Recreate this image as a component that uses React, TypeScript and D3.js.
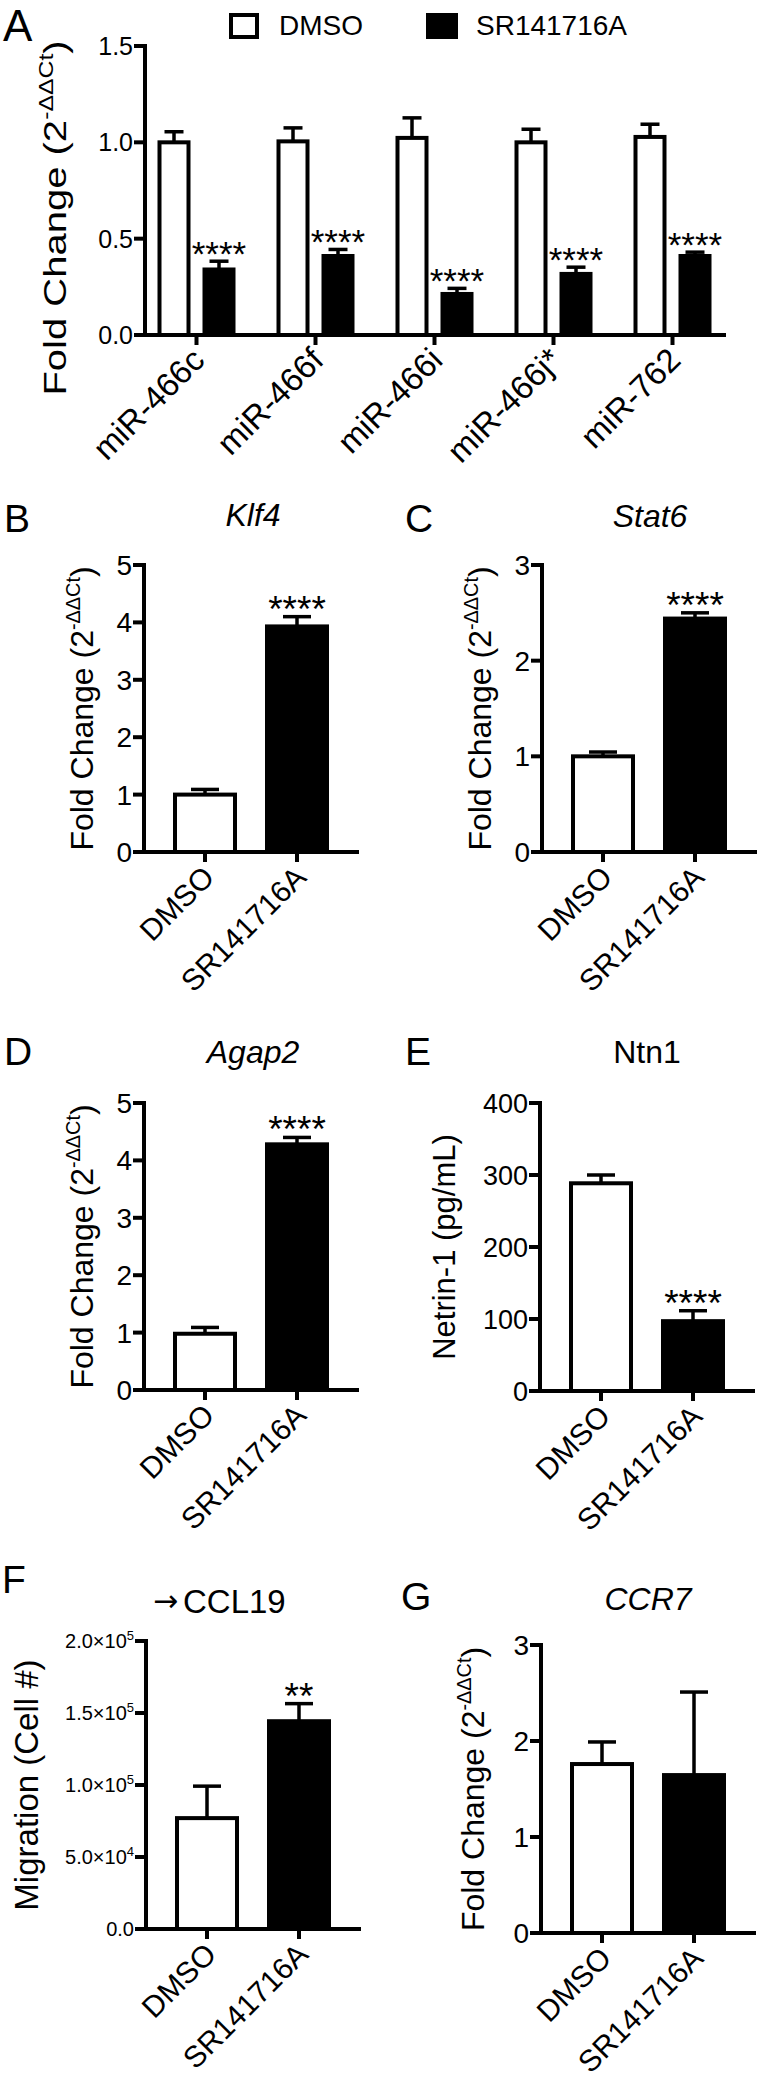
import React from "react";
import * as d3 from "d3";

const FONT = "'Liberation Sans', Arial, Helvetica, sans-serif";

// ---------- Panel A data ----------
const miRNAs = ["miR-466c", "miR-466f", "miR-466i", "miR-466j*", "miR-762"];
const miDMSO = [1.0, 1.005, 1.023, 1.0, 1.028];
const miDMSOSem = [0.055, 0.07, 0.104, 0.068, 0.066];
const miSR = [0.34, 0.41, 0.213, 0.317, 0.41];
const miSRSem = [0.043, 0.034, 0.029, 0.035, 0.02];
const miStars = ["****", "****", "****", "****", "****"];
const aTicks = [0, 0.5, 1.0, 1.5];
const legendLabels = ["DMSO", "SR141716A"];

// ---------- Two-group panels ----------
const groups = ["DMSO", "SR141716A"];

const klf4Mean = [1.0, 3.93];
const klf4Sem = [0.09, 0.17];
const klf4Stars = ["", "****"];
const klf4Ticks = [0, 1, 2, 3, 4, 5];

const stat6Mean = [1.0, 2.44];
const stat6Sem = [0.045, 0.06];
const stat6Stars = ["", "****"];
const stat6Ticks = [0, 1, 2, 3];

const agap2Mean = [0.98, 4.28];
const agap2Sem = [0.11, 0.12];
const agap2Stars = ["", "****"];
const agap2Ticks = [0, 1, 2, 3, 4, 5];

const ntn1Mean = [288.5, 97];
const ntn1Sem = [11.5, 14.5];
const ntn1Stars = ["", "****"];
const ntn1Ticks = [0, 100, 200, 300, 400];

const ccl19Mean = [77000, 144300];
const ccl19Sem = [22200, 12200];
const ccl19Stars = ["", "**"];
const ccl19Ticks = [0, 50000, 100000, 150000, 200000];

const ccr7Mean = [1.76, 1.645];
const ccr7Sem = [0.23, 0.865];
const ccr7Stars = ["", ""];
const ccr7Ticks = [0, 1, 2, 3];

const AX = 4; // axis stroke
const BS = 4; // bar stroke
const ES = 3.5; // error stroke

function FoldLabel({ x, y, size, sx = 1 }: { x: number; y: number; size: number; sx?: number }) {
  const sup = size * 0.62;
  const shift = size * 0.42;
  return (
    <g transform={`translate(${x},${y}) scale(${sx},1) rotate(-90)`}>
      <text textAnchor="middle" fontSize={size} fontFamily={FONT}>
        Fold Change (2
        <tspan fontSize={sup} dy={-shift}>-ΔΔCt</tspan>
        <tspan dy={shift}>)</tspan>
      </text>
    </g>
  );
}

function sciLabel(v: number) {
  if (v === 0) return { main: "0.0", exp: "" };
  const e = Math.floor(Math.log10(v));
  const m = v / Math.pow(10, e);
  return { main: `${m.toFixed(1)}×10`, exp: String(e) };
}

type PanelProps = {
  ax: number;
  top: number;
  zero: number;
  ticks: number[];
  mean: number[];
  sem: number[];
  stars: string[];
  title: React.ReactNode;
  titleX: number;
  titleY: number;
  letter: string;
  letterX: number;
  letterY: number;
  ylabel: "fold" | string;
  ylabelX: number;
  ylabelSize: number;
  tickSize?: number;
  sci?: boolean;
  titleAnchor?: "middle" | "start";
};

function TwoBarPanel(p: PanelProps) {
  const y = d3.scaleLinear().domain([0, p.ticks[p.ticks.length - 1]]).range([p.zero, p.top]);
  const x = d3.scalePoint<string>().domain(groups).range([p.ax + 61, p.ax + 153]);
  const axisEnd = p.ax + 215;
  const barW = 60;
  const capW = 28;
  const tickSize = p.tickSize ?? 28;
  const ylabelY = (p.top + p.zero) / 2;
  return (
    <g>
      <text x={p.letterX} y={p.letterY} fontSize={39} fontFamily={FONT}>{p.letter}</text>
      <text x={p.titleX} y={p.titleY} fontSize={32} fontFamily={FONT} textAnchor={p.titleAnchor ?? "middle"}>{p.title}</text>
      {p.ylabel === "fold" ? (
        <FoldLabel x={p.ylabelX} y={ylabelY} size={p.ylabelSize} />
      ) : (
        <text transform={`translate(${p.ylabelX},${ylabelY}) rotate(-90)`} textAnchor="middle" fontSize={p.ylabelSize} fontFamily={FONT}>
          {p.ylabel}
        </text>
      )}
      {groups.map((g, i) => {
        const cx = x(g)!;
        const yt = y(p.mean[i]);
        const ye = y(p.mean[i] + p.sem[i]);
        return (
          <g key={g}>
            <line x1={cx} x2={cx} y1={yt} y2={ye} stroke="#000" strokeWidth={ES} />
            <line x1={cx - capW / 2} x2={cx + capW / 2} y1={ye} y2={ye} stroke="#000" strokeWidth={ES} />
            <rect x={cx - barW / 2} y={yt} width={barW} height={p.zero - yt} fill={i === 0 ? "#fff" : "#000"} stroke="#000" strokeWidth={BS} />
            {p.stars[i] && (
              <text x={cx} y={ye + 5} fontSize={37} fontFamily={FONT} textAnchor="middle">{p.stars[i]}</text>
            )}
          </g>
        );
      })}
      <line x1={p.ax} x2={p.ax} y1={p.top - AX / 2} y2={p.zero} stroke="#000" strokeWidth={AX} />
      {p.ticks.map((t) => {
        const ty = y(t);
        const lab = p.sci ? sciLabel(t) : { main: String(t), exp: "" };
        return (
          <g key={t}>
            <line x1={p.ax - 11} x2={p.ax} y1={ty} y2={ty} stroke="#000" strokeWidth={AX} />
            <text x={p.ax - 12} y={ty + tickSize * 0.36} fontSize={tickSize} fontFamily={FONT} textAnchor="end">
              {lab.main}
              {lab.exp && <tspan fontSize={tickSize * 0.65} dy={-tickSize * 0.4}>{lab.exp}</tspan>}
            </text>
          </g>
        );
      })}
      <line x1={p.ax - AX / 2} x2={axisEnd} y1={p.zero} y2={p.zero} stroke="#000" strokeWidth={AX} />
      {groups.map((g) => (
        <g key={g}>
          <line x1={x(g)!} x2={x(g)!} y1={p.zero} y2={p.zero + 10} stroke="#000" strokeWidth={AX} />
          <text transform={`translate(${x(g)! + 11},${p.zero + 27}) rotate(-45)`} fontSize={30} fontFamily={FONT} textAnchor="end">
            {g}
          </text>
        </g>
      ))}
    </g>
  );
}

function PanelA() {
  const ax = 145;
  const top = 46;
  const zero = 335;
  const y = d3.scaleLinear().domain([0, 1.5]).range([zero, top]);
  const x = d3.scaleBand<string>().domain(miRNAs).range([137, 732]);
  const barW = 29;
  const off = 22.5;
  const capW = 19;
  const series = [
    { mean: miDMSO, sem: miDMSOSem, fill: "#fff", dx: -off },
    { mean: miSR, sem: miSRSem, fill: "#000", dx: off },
  ];
  return (
    <g>
      <text x={3} y={41} fontSize={44} fontFamily={FONT}>A</text>
      <rect x={231} y={15} width={26} height={22} fill="#fff" stroke="#000" strokeWidth={BS} />
      <text x={279} y={35} fontSize={28} fontFamily={FONT}>{legendLabels[0]}</text>
      <rect x={428} y={15} width={28} height={22} fill="#000" stroke="#000" strokeWidth={BS} />
      <text x={476} y={35} fontSize={28} fontFamily={FONT}>{legendLabels[1]}</text>
      <FoldLabel x={66} y={218} size={40} sx={0.8} />
      {miRNAs.map((m, i) => {
        const c = x(m)! + x.bandwidth() / 2;
        return (
          <g key={m}>
            {series.map((s, k) => {
              const cx = c + s.dx;
              const yt = y(s.mean[i]);
              const ye = y(s.mean[i] + s.sem[i]);
              return (
                <g key={k}>
                  <line x1={cx} x2={cx} y1={yt} y2={ye} stroke="#000" strokeWidth={ES} />
                  <line x1={cx - capW / 2} x2={cx + capW / 2} y1={ye} y2={ye} stroke="#000" strokeWidth={ES} />
                  <rect x={cx - barW / 2} y={yt} width={barW} height={zero - yt} fill={s.fill} stroke="#000" strokeWidth={BS} />
                  {k === 1 && (
                    <text x={cx} y={ye + 5} fontSize={35} fontFamily={FONT} textAnchor="middle">{miStars[i]}</text>
                  )}
                </g>
              );
            })}
            <line x1={c} x2={c} y1={zero} y2={zero + 10} stroke="#000" strokeWidth={AX} />
            <text transform={`translate(${c + 10},${zero + 27}) rotate(-45)`} fontSize={33} fontFamily={FONT} textAnchor="end">
              {m}
            </text>
          </g>
        );
      })}
      <line x1={ax} x2={ax} y1={top - AX / 2} y2={zero} stroke="#000" strokeWidth={AX} />
      {aTicks.map((t) => (
        <g key={t}>
          <line x1={ax - 11} x2={ax} y1={y(t)} y2={y(t)} stroke="#000" strokeWidth={AX} />
          <text x={ax - 12} y={y(t) + 9} fontSize={25} fontFamily={FONT} textAnchor="end">{d3.format(".1f")(t)}</text>
        </g>
      ))}
      <line x1={ax - AX / 2} x2={726} y1={zero} y2={zero} stroke="#000" strokeWidth={AX} />
    </g>
  );
}

export default function App() {
  const it = (s: string) => <tspan fontStyle="italic">{s}</tspan>;
  return (
    <svg width={760} height={2082} style={{ position: "absolute", left: 0, top: 0, display: "block", background: "#fff" }}>
      <rect width={760} height={2082} fill="#fff" />
      <PanelA />
      <TwoBarPanel ax={144} top={565} zero={852} ticks={klf4Ticks} mean={klf4Mean} sem={klf4Sem} stars={klf4Stars}
        title={it("Klf4")} titleX={253} titleY={526} letter="B" letterX={4} letterY={532} ylabel="fold" ylabelX={93} ylabelSize={32} />
      <TwoBarPanel ax={542} top={565} zero={852} ticks={stat6Ticks} mean={stat6Mean} sem={stat6Sem} stars={stat6Stars}
        title={it("Stat6")} titleX={650} titleY={527} letter="C" letterX={405} letterY={532} ylabel="fold" ylabelX={491} ylabelSize={32} />
      <TwoBarPanel ax={144} top={1103} zero={1390} ticks={agap2Ticks} mean={agap2Mean} sem={agap2Sem} stars={agap2Stars}
        title={it("Agap2")} titleX={253} titleY={1063} letter="D" letterX={4} letterY={1065} ylabel="fold" ylabelX={93} ylabelSize={32} />
      <TwoBarPanel ax={540} top={1103} zero={1391} ticks={ntn1Ticks} mean={ntn1Mean} sem={ntn1Sem} stars={ntn1Stars}
        title="Ntn1" titleX={647} titleY={1063} letter="E" letterX={405} letterY={1065} ylabel="Netrin-1 (pg/mL)" ylabelX={455} ylabelSize={31} tickSize={27} />
      <TwoBarPanel ax={146} top={1641} zero={1929} ticks={ccl19Ticks} mean={ccl19Mean} sem={ccl19Sem} stars={ccl19Stars}
        title={<tspan fontSize={33}>CCL19</tspan>} titleX={183} titleY={1613} titleAnchor="start" letter="F" letterX={2} letterY={1593}
        ylabel="Migration (Cell #)" ylabelX={38} ylabelSize={33} tickSize={20} sci />
      <text x={153} y={1611} fontSize={30} fontFamily="'DejaVu Sans', sans-serif">→</text>
      <TwoBarPanel ax={541} top={1645} zero={1933} ticks={ccr7Ticks} mean={ccr7Mean} sem={ccr7Sem} stars={ccr7Stars}
        title={it("CCR7")} titleX={648} titleY={1610} letter="G" letterX={401} letterY={1610} ylabel="fold" ylabelX={484} ylabelSize={32} />
    </svg>
  );
}
